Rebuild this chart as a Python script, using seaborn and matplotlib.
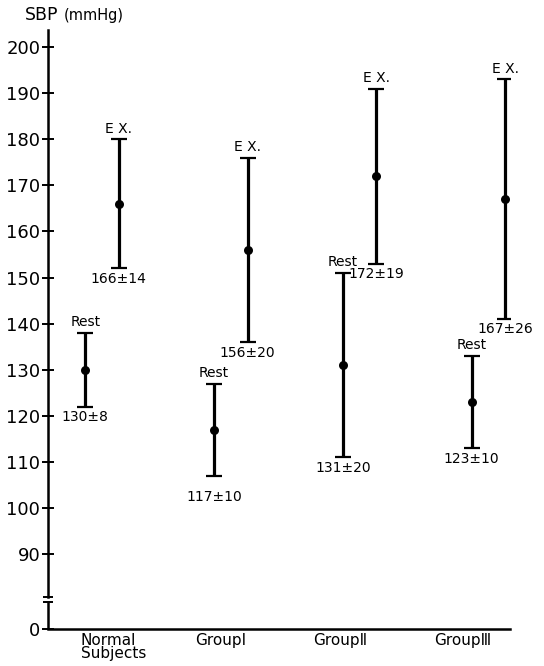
import numpy as np
import pandas as pd
import matplotlib
matplotlib.use("Agg")
import matplotlib.pyplot as plt
import matplotlib.transforms as mtransforms
import seaborn as sns

# values (mean ± SD, mmHg)
groups = ["Normal\nSubjects", "GroupⅠ", "GroupⅡ", "GroupⅢ"]
rest_mean = [130, 117, 131, 123]
rest_sd = [8, 10, 20, 10]
ex_mean = [166, 156, 172, 167]
ex_sd = [14, 20, 19, 26]
y_ticks = [0, 90, 100, 110, 120, 130, 140, 150, 160, 170, 180, 190, 200]

sns.set_style("ticks")
plt.rcParams['font.family'] = ['DejaVu Sans']
plt.rcParams['text.color'] = 'black'

# squash everything below 80 so 0 sits just under the axis break
BREAK = 80
K = 0.078

def fwd(y):
    y = np.asarray(y, dtype=float)
    return np.where(y >= BREAK, y, BREAK + (y - BREAK) * K)

def inv(v):
    v = np.asarray(v, dtype=float)
    return np.where(v >= BREAK, v, BREAK + (v - BREAK) / K)

idx = np.arange(len(groups))
df = pd.DataFrame({
    "x": np.concatenate([idx - 0.13, idx + 0.13]),
    "sbp": rest_mean + ex_mean,
    "sd": rest_sd + ex_sd,
    "state": ["Rest"] * 4 + ["E X."] * 4,
    "grp": list(idx) * 2,
})

fig = plt.figure(figsize=(5.44, 6.66), dpi=100)
ax = fig.add_axes([0.088, 0.0556, 0.85, 0.8994])
ax.set_yscale("function", functions=(fwd, inv))

ax.errorbar(df["x"], df["sbp"], yerr=df["sd"], fmt="none", ecolor="black",
            elinewidth=2.3, capsize=5.8, capthick=1.6, zorder=2)
sns.scatterplot(data=df, x="x", y="sbp", color="black", s=42, edgecolor="black",
                linewidth=0, zorder=3, ax=ax, legend=False)

for _, r in df.iterrows():
    ax.annotate(r["state"], (r["x"], r["sbp"] + r["sd"]), xytext=(0, 2.5),
                textcoords="offset points", ha="center", va="bottom", fontsize=10,
                color="black")
    pad = 10 if (r["state"] == "Rest" and r["grp"] == 1) else 2.5
    ax.annotate(f"{r['sbp']}±{r['sd']}", (r["x"], r["sbp"] - r["sd"]), xytext=(0, -pad),
                textcoords="offset points", ha="center", va="top", fontsize=10,
                color="black")

ax.set_xlim(-0.42, 3.17)
ax.set_ylim(0, 203.7)
ax.set_yticks(y_ticks)
ax.set_yticklabels([str(t) for t in y_ticks], fontsize=13)
ax.set_xticks([0.09, 0.92, 1.85, 2.8])
ax.set_xticklabels(groups, fontsize=11, linespacing=0.85)
for lab in ax.get_xticklabels():
    lab.set_multialignment("left")
ax.set_xlabel("")
ax.set_ylabel("")

ax.tick_params(axis="y", direction="inout", length=9, width=1.4, pad=1,
               colors="black", labelcolor="black")
ax.tick_params(axis="x", length=0, pad=3, colors="black", labelcolor="black")

sns.despine(ax=ax)
for s in ["left", "bottom"]:
    ax.spines[s].set_linewidth(1.8)
    ax.spines[s].set_color("black")

# broken y axis
ax.spines["left"].set_bounds(80.6, 203.7)
trans = mtransforms.blended_transform_factory(ax.transAxes, ax.transData)
ax.plot([0, 0], [0, 75], transform=trans, color="black", lw=1.8, clip_on=False,
        solid_capstyle="butt")
ax.plot([0, 0], [80.6, 75], transform=trans, color="black", marker="_",
        markersize=7, mew=1.4, lw=0, clip_on=False)

fig.text(0.046, 0.978, "SBP", fontsize=12.5, ha="left", va="center", color="black")
fig.text(0.118, 0.977, "(mmHg)", fontsize=10.5, ha="left", va="center", color="black")

fig.savefig("out.png", dpi=100)
